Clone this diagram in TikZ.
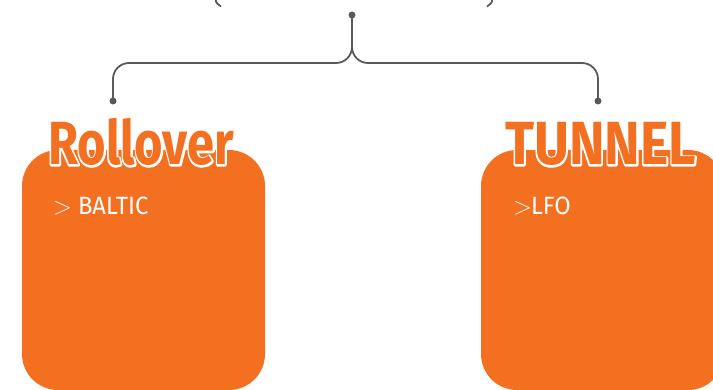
\documentclass[tikz,border=0pt]{standalone}
\usepackage{fontspec}
\usepackage{xcolor}
\usepackage{tikz}
\usetikzlibrary{positioning,calc}
\newfontfamily\headfont[FakeStretch=0.8]{Fira Sans}
\newfontfamily\capsfont[FakeStretch=0.88]{Fira Sans}
\newfontfamily\listfont[FakeStretch=0.95]{Fira Sans}
\definecolor{brandorange}{HTML}{F37021}
\definecolor{wiregray}{HTML}{5A5A5A}
% white stroke behind orange letters
\newcommand{\outlined}[1]{\rlap{\special{pdf:literal direct 1 Tr 3.4 w 1 J 1 j 1 1 1 RG}#1\special{pdf:literal direct 0 Tr}}\textcolor{brandorange}{#1}}
\tikzset{
  catbox/.style={fill=brandorange,draw=none,rounded corners=36pt,minimum width=243pt,minimum height=240pt,inner sep=0pt},
  headline/.style={anchor=base west,inner sep=0pt,font=\headfont\bfseries\fontsize{61}{61}\selectfont},
  itemline/.style={anchor=base west,inner sep=0pt,text=white,font=\listfont\fontsize{25}{25}\selectfont},
  connector/.style={draw=wiregray,line width=1.8pt,rounded corners=16pt},
  pin/.style={circle,fill=wiregray,inner sep=0pt,minimum size=7pt}
}
\begin{document}
\begin{tikzpicture}[x=1pt,y=1pt]
  \useasboundingbox (0,0) rectangle (713,389);
  \begin{scope}
    \clip (0,0) rectangle (713,389);
    % two category panels
    \node[catbox] (rollbox) at (143.5,119) {};
    \node[catbox] (tunnelbox) at (602.5,119) {};
    % top outline fragments
    \draw[wiregray,line width=1.8pt] (215.5,390) .. controls (216,386) and (218,384) .. (221,382.5);
    \draw[wiregray,line width=1.8pt] (492.5,390) .. controls (492,386) and (490,384) .. (487,382.5);
  \end{scope}
  % headings
  \node[headline] (rolltitle) at (48,224) {\outlined{Rollover}};
  \node[headline,font=\capsfont\bfseries\fontsize{61}{61}\selectfont] (tunneltitle) at (505,224) {\outlined{TUNNEL}};
  \node[itemline] (baltic) at (53,175) {$>$\hspace{6pt}BALTIC};
  \node[itemline] (lfo) at (513,175) {$>$\hspace{-1pt}LFO};
  % brace
  \node[pin] (hub) at (352,374) {};
  \node[pin] (leftend) at (113,288) {};
  \node[pin] (rightend) at (598,288) {};
  \draw[connector] (hub.center) -- (352,326) -| (leftend.center);
  \draw[connector] (hub.center) -- (352,326) -| (rightend.center);
\end{tikzpicture}
\end{document}
